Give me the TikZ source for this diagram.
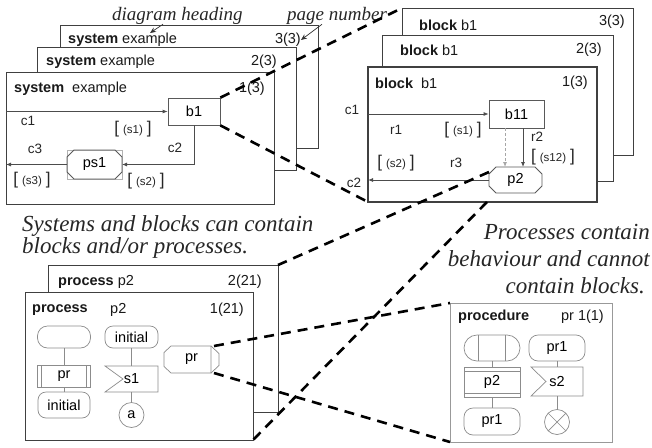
\documentclass[tikz,border=0pt]{standalone}
\usepackage{fontspec}
\setmainfont{Liberation Sans}
\newfontfamily\capfont{Liberation Serif}
\usetikzlibrary{arrows.meta,calc}
\newcommand\sig[1]{{\fontsize{17}{17}\selectfont[}\hspace{4pt}{\fontsize{11.5}{11.5}\selectfont(#1)}\hspace{4pt}{\fontsize{17}{17}\selectfont]}}
\newcommand\chamf[3]{\draw[#3] ($(#1.north west)+(#2,0)$) -- ($(#1.north east)+(-#2,0)$) -- ($(#1.north east)+(0,#2)$) -- ($(#1.south east)+(0,-#2)$) -- ($(#1.south east)+(-#2,0)$) -- ($(#1.south west)+(#2,0)$) -- ($(#1.south west)+(0,-#2)$) -- ($(#1.north west)+(0,#2)$) -- cycle;}
\begin{document}
\begin{tikzpicture}[x=1pt,y=-1pt,
  frame/.style={draw=black!75, fill=white, line width=0.9pt, inner sep=0pt, outer sep=0pt, anchor=north west},
  hd/.style={font=\fontsize{14.5}{14.5}\selectfont, inner sep=0pt, anchor=west, text=black!90},
  num/.style={font=\fontsize{14.5}{14.5}\selectfont, inner sep=0pt, anchor=east, text=black!90},
  lab/.style={font=\fontsize{13.5}{13.5}\selectfont, inner sep=0pt, text=black!85},
  box/.style={draw=black!65, line width=0.8pt, fill=white, inner sep=0pt, font=\fontsize{14.5}{14.5}\selectfont},
  plain/.style={inner sep=0pt, outer sep=0pt, font=\fontsize{14.5}{14.5}\selectfont},
  chan/.style={draw=black!70, line width=0.8pt, -{Latex[length=5pt,width=4pt]}},
  zoomline/.style={draw=black, line width=2.6pt, dash pattern=on 10pt off 7pt},
  sym/.style={draw=black!45, line width=0.7pt, inner sep=0pt, outer sep=0pt, font=\fontsize{14.5}{14.5}\selectfont},
  symline/.style={draw=black!45, line width=0.7pt},
  captxt/.style={font=\capfont\itshape\fontsize{23}{23}\selectfont, inner sep=0pt, text=black!85},
  notetxt/.style={font=\capfont\itshape\fontsize{19}{19}\selectfont, inner sep=0pt, text=black!85},
  pointer/.style={draw=black!80, line width=0.7pt, -{Stealth[length=6pt,width=5pt]}}
]
\useasboundingbox (0,0) rectangle (652,447);

% ---------------- system frames
\node[frame, minimum width=258pt, minimum height=123pt] (sys3) at (60,25) {};
\node[hd] (s3h) at (68,40) {\textbf{system} example};
\node[num] (s3n) at (301,40) {3(3)};
\node[frame, minimum width=259pt, minimum height=123pt] (sys2) at (37,47) {};
\node[hd] (s2h) at (46,62) {\textbf{system} example};
\node[num] (s2n) at (277,62) {2(3)};
\node[frame, minimum width=268pt, minimum height=132pt] (sys1) at (6,72) {};
\node[hd] (s1h) at (14,89) {\textbf{system}\ \ example};
\node[num] (s1n) at (265,89) {1(3)};

\node[box, minimum width=52pt, minimum height=27pt] (b1) at (194,111.5) {b1};
\node[plain, draw=black!30, line width=0.6pt, minimum width=55pt, minimum height=29pt] (ps1) at (94.5,164.5) {ps1};
\chamf{ps1}{7}{draw=black!65, line width=0.8pt}

\draw[chan] (sys1.west |- b1.west) -- (b1.west);
\draw[chan] (b1.south) |- (ps1.east);
\draw[chan] (ps1.west) -- (ps1.west -| sys1.west);

\node[lab] (lc1) at (28,121) {c1};
\node[lab] (ls1) at (133,129) {\sig{s1}};
\node[lab] (lc3) at (35,149) {c3};
\node[lab] (lc2) at (175,148) {c2};
\node[lab] (ls3) at (32,180) {\sig{s3}};
\node[lab] (ls2) at (146,181) {\sig{s2}};

% ---------------- block frames
\node[frame, minimum width=231pt, minimum height=147pt] (blk3) at (402,8) {};
\node[hd] (bh3) at (419,25) {\textbf{block} b1};
\node[num] (bn3) at (625,22) {3(3)};
\node[frame, minimum width=231pt, minimum height=146pt] (blk2) at (382,35) {};
\node[hd] (bh2) at (400,50) {\textbf{block} b1};
\node[num] (bn2) at (602,50) {2(3)};
\node[frame, line width=1.2pt, minimum width=229pt, minimum height=135pt] (blk1) at (368,67) {};
\node[hd] (bh1) at (375,83) {\textbf{block}\ \ b1};
\node[num] (bn1) at (588,83) {1(3)};

\node[box, minimum width=55pt, minimum height=28pt] (b11) at (516.5,114) {b11};
\node[plain, minimum width=53pt, minimum height=26pt] (p2) at (515.5,180) {p2};
\chamf{p2}{7}{draw=black!65, line width=0.8pt}

\draw[chan] (blk1.west |- b11.west) -- (b11.west);
\draw[chan] ([xshift=6.5pt]b11.south) -- ([xshift=6.5pt]b11.south |- p2.north);
\draw[chan, draw=black!35, densely dashed] ([xshift=-11.5pt]b11.south) -- ([xshift=-11.5pt]b11.south |- p2.north);
\draw[chan] (p2.west) -- (p2.west -| blk1.west);

\node[lab] (bc1) at (352,110) {c1};
\node[lab] (br1) at (396,130) {r1};
\node[lab] (bs1) at (463,130) {\sig{s1}};
\node[lab] (br2) at (537,137) {r2};
\node[lab] (bs12) at (553,157) {\sig{s12}};
\node[lab] (bs2) at (396,163) {\sig{s2}};
\node[lab] (br3) at (456,163) {r3};
\node[lab] (bc2) at (354,183) {c2};

% ---------------- process frames
\node[frame, minimum width=230pt, minimum height=147pt] (proc2) at (48,265) {};
\node[hd] (ph2) at (58,282) {\textbf{process} p2};
\node[num] (pn2) at (262,282) {2(21)};
\node[frame, minimum width=228pt, minimum height=148pt] (proc1) at (25,292) {};
\node[hd] (ph1) at (32,310) {\textbf{process}};
\node[hd] (ph1b) at (110,310) {p2};
\node[num] (pn1) at (244,310) {1(21)};

\node[sym, rounded corners=10pt, minimum width=53pt, minimum height=22pt] (st) at (64,337) {};
\node[sym, minimum width=53pt, minimum height=22pt] (pc) at (64,376) {pr};
\draw[symline] ([xshift=4pt]pc.north west) -- ([xshift=4pt]pc.south west);
\draw[symline] ([xshift=-4pt]pc.north east) -- ([xshift=-4pt]pc.south east);
\node[sym, rounded corners=8pt, minimum width=52pt, minimum height=26pt] (in1) at (64,405) {initial};
\draw[symline] (st) -- (pc);
\draw[symline] (pc) -- (in1);

\node[sym, rounded corners=8pt, minimum width=53pt, minimum height=22pt] (in2) at (131.5,337) {initial};
\node[plain, minimum width=53pt, minimum height=26pt] (s1) at (131.5,379) {s1};
\draw[symline] (s1.north west) -- (s1.north east) -- (s1.south east) -- (s1.south west) -- ($(s1.west)+(18,0)$) -- cycle;
\node[sym, circle, minimum size=25pt] (ca) at (131.5,415) {a};
\draw[symline] (in2) -- (s1);
\draw[symline] (s1) -- (ca);

\node[plain, minimum width=55pt, minimum height=27pt] (prref) at (191.5,359.5) {pr};
\draw[symline] ($(prref.north west)+(7,0)$) -- ($(prref.north east)+(-8,0)$) -- ($(prref.south east)+(-8,0)$) -- ($(prref.south west)+(7,0)$) -- ($(prref.west)+(0,7)$) -- ($(prref.west)+(0,-7)$) -- cycle;
\draw[symline] ($(prref.north east)+(-8,0)$) -- ($(prref.east)+(0,-6)$) -- ($(prref.east)+(0,6)$) -- ($(prref.south east)+(-8,0)$);

% ---------------- procedure frame
\node[frame, draw=black!40, line width=0.7pt, minimum width=162pt, minimum height=139pt] (pf) at (450,303) {};
\node[hd] (pfh) at (458,317) {\textbf{procedure}};
\node[num] (pfn) at (604,317) {pr 1(1)};

\node[sym, rounded corners=13pt, minimum width=56pt, minimum height=26pt] (pst) at (492,348) {};
\draw[symline] ([xshift=-14pt]pst.north) -- ([xshift=-14pt]pst.south);
\draw[symline] ([xshift=13pt]pst.north) -- ([xshift=13pt]pst.south);
\node[sym, minimum width=56pt, minimum height=30pt] (pcall) at (492,382) {p2};
\draw[symline] ([yshift=-4pt]pcall.north west) -- ([yshift=-4pt]pcall.north east);
\draw[symline] ([yshift=4pt]pcall.south west) -- ([yshift=4pt]pcall.south east);
\node[sym, rounded corners=9pt, minimum width=56pt, minimum height=27pt] (ppr1) at (492,421.5) {pr1};
\draw[symline] (pst) -- (pcall);
\draw[symline] (pcall) -- (ppr1);

\node[sym, rounded corners=9pt, minimum width=56pt, minimum height=26pt] (qpr1) at (557,348) {pr1};
\node[plain, minimum width=52pt, minimum height=29pt] (s2) at (557,381.5) {s2};
\draw[symline] (s2.north west) -- (s2.north east) -- (s2.south east) -- (s2.south west) -- ($(s2.west)+(15,0)$) -- cycle;
\node[sym, circle, minimum size=25pt] (stop) at (557,422) {};
\draw[symline] (stop.north east) -- (stop.south west);
\draw[symline] (stop.north west) -- (stop.south east);
\draw[symline] (qpr1) -- (s2);
\draw[symline] (s2) -- (stop);

% ---------------- captions
\node[notetxt, anchor=base west] (dh) at (112,20) {diagram heading};
\node[notetxt, anchor=base west] (pnum) at (287,20) {page number};
\draw[pointer] ($(dh.south west)+(51,0)$) -- ($(s3h.north west)+(82,0)$);
\draw[pointer] ($(pnum.south west)+(35,0)$) -- (s3n.east);

\node[captxt, anchor=base west] (capA1) at (22,231) {Systems and blocks can contain};
\node[captxt, anchor=base west] (capA2) at (22,253) {blocks and/or processes.};
\node[captxt, anchor=base east] (capB1) at (650,239) {Processes contain};
\node[captxt, anchor=base east] (capB2) at (650,266) {behaviour and cannot};
\node[captxt, anchor=base east] (capB3) at (645,293) {contain blocks.};

% ---------------- zoom lines
\draw[zoomline] (b1.north east) -- (blk3.north west);
\draw[zoomline] (b1.south east) -- (blk1.south west);
\draw[zoomline] ($(p2.west)+(0,-8)$) -- (proc2.north east);
\coordinate (cut) at ($(blk1.south west)+(119,0)$);
\draw[zoomline] (cut) -- (proc1.south east);
\draw[zoomline] ($(prref.north east)+(-5,0)$) -- (pf.north west);
\draw[zoomline] ($(prref.south east)+(-5,0)$) -- (pf.south west);
\end{tikzpicture}
\end{document}
